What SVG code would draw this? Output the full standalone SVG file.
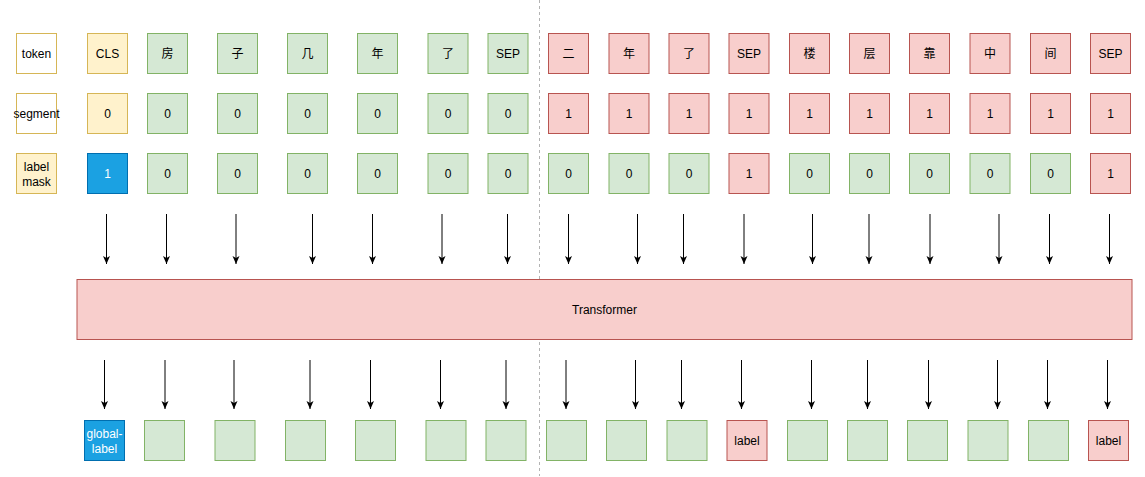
<svg xmlns="http://www.w3.org/2000/svg" width="1145" height="477" viewBox="0 0 1145 477">
<style>
.y{fill:#fff2cc;stroke:#d6b656;stroke-width:1}
.g{fill:#d5e8d4;stroke:#82b366;stroke-width:1}
.r{fill:#f8cecc;stroke:#b85450;stroke-width:1}
.b{fill:#1ba1e2;stroke:#006eaf;stroke-width:1}
.w{fill:#ffffff;stroke:#d6b656;stroke-width:1}
text{font-family:"Liberation Sans","Noto Sans CJK SC",sans-serif;font-size:12px;text-anchor:middle;fill:#000}
text.wt{fill:#ffffff}
.c line{stroke:#000;stroke-width:1;marker-end:url(#ah)}
</style>
<defs>
<marker id="ah" viewBox="0 0 8 8" refX="8" refY="4" markerWidth="8" markerHeight="8" markerUnits="userSpaceOnUse" orient="auto"><path d="M0,0.5 L8,4 L0,7.5 L2,4 Z" fill="#000"/></marker>
</defs>
<rect width="1145" height="477" fill="#ffffff"/>
<line id="divider" x1="539.5" y1="0" x2="539.5" y2="476" stroke="#b3b3b3" stroke-width="1" stroke-dasharray="3 3"/>

<g id="hdr-token"><rect class="w" x="16.5" y="33.5" width="40" height="40"/><text x="36.5" y="57.8">token</text></g>
<g id="hdr-segment"><rect class="w" x="16.5" y="93.5" width="40" height="40"/><text x="36.5" y="117.8">segment</text></g>
<g id="hdr-mask"><rect class="y" x="16.5" y="153.5" width="40" height="40"/><text x="36.5" y="171">label</text><text x="36.5" y="185.5">mask</text></g>

<g id="tok-1"><rect class="y" x="87.5" y="33.5" width="40" height="40"/><text x="107.5" y="57.8">CLS</text></g>
<g id="tok-2"><rect class="g" x="147.5" y="33.5" width="40" height="40"/><text x="167.5" y="57.8">房</text></g>
<g id="tok-3"><rect class="g" x="217.5" y="33.5" width="40" height="40"/><text x="237.5" y="57.8">子</text></g>
<g id="tok-4"><rect class="g" x="287.5" y="33.5" width="40" height="40"/><text x="307.5" y="57.8">几</text></g>
<g id="tok-5"><rect class="g" x="357.5" y="33.5" width="40" height="40"/><text x="377.5" y="57.8">年</text></g>
<g id="tok-6"><rect class="g" x="428" y="33.5" width="40" height="40"/><text x="448" y="57.8">了</text></g>
<g id="tok-7"><rect class="g" x="488" y="33.5" width="40" height="40"/><text x="508" y="57.8">SEP</text></g>
<g id="tok-8"><rect class="r" x="548.5" y="33.5" width="40" height="40"/><text x="568.5" y="57.8">二</text></g>
<g id="tok-9"><rect class="r" x="609" y="33.5" width="40" height="40"/><text x="629" y="57.8">年</text></g>
<g id="tok-10"><rect class="r" x="669" y="33.5" width="40" height="40"/><text x="689" y="57.8">了</text></g>
<g id="tok-11"><rect class="r" x="729" y="33.5" width="40" height="40"/><text x="749" y="57.8">SEP</text></g>
<g id="tok-12"><rect class="r" x="789.5" y="33.5" width="40" height="40"/><text x="809.5" y="57.8">楼</text></g>
<g id="tok-13"><rect class="r" x="849.5" y="33.5" width="40" height="40"/><text x="869.5" y="57.8">层</text></g>
<g id="tok-14"><rect class="r" x="909.5" y="33.5" width="40" height="40"/><text x="929.5" y="57.8">靠</text></g>
<g id="tok-15"><rect class="r" x="970" y="33.5" width="40" height="40"/><text x="990" y="57.8">中</text></g>
<g id="tok-16"><rect class="r" x="1030.5" y="33.5" width="40" height="40"/><text x="1050.5" y="57.8">间</text></g>
<g id="tok-17"><rect class="r" x="1090.5" y="33.5" width="40" height="40"/><text x="1110.5" y="57.8">SEP</text></g>

<g id="seg-1"><rect class="y" x="87.5" y="93.5" width="40" height="40"/><text x="107.5" y="117.8">0</text></g>
<g id="seg-2"><rect class="g" x="147.5" y="93.5" width="40" height="40"/><text x="167.5" y="117.8">0</text></g>
<g id="seg-3"><rect class="g" x="217.5" y="93.5" width="40" height="40"/><text x="237.5" y="117.8">0</text></g>
<g id="seg-4"><rect class="g" x="287.5" y="93.5" width="40" height="40"/><text x="307.5" y="117.8">0</text></g>
<g id="seg-5"><rect class="g" x="357.5" y="93.5" width="40" height="40"/><text x="377.5" y="117.8">0</text></g>
<g id="seg-6"><rect class="g" x="428" y="93.5" width="40" height="40"/><text x="448" y="117.8">0</text></g>
<g id="seg-7"><rect class="g" x="488" y="93.5" width="40" height="40"/><text x="508" y="117.8">0</text></g>
<g id="seg-8"><rect class="r" x="548.5" y="93.5" width="40" height="40"/><text x="568.5" y="117.8">1</text></g>
<g id="seg-9"><rect class="r" x="609" y="93.5" width="40" height="40"/><text x="629" y="117.8">1</text></g>
<g id="seg-10"><rect class="r" x="669" y="93.5" width="40" height="40"/><text x="689" y="117.8">1</text></g>
<g id="seg-11"><rect class="r" x="729" y="93.5" width="40" height="40"/><text x="749" y="117.8">1</text></g>
<g id="seg-12"><rect class="r" x="789.5" y="93.5" width="40" height="40"/><text x="809.5" y="117.8">1</text></g>
<g id="seg-13"><rect class="r" x="849.5" y="93.5" width="40" height="40"/><text x="869.5" y="117.8">1</text></g>
<g id="seg-14"><rect class="r" x="909.5" y="93.5" width="40" height="40"/><text x="929.5" y="117.8">1</text></g>
<g id="seg-15"><rect class="r" x="970" y="93.5" width="40" height="40"/><text x="990" y="117.8">1</text></g>
<g id="seg-16"><rect class="r" x="1030.5" y="93.5" width="40" height="40"/><text x="1050.5" y="117.8">1</text></g>
<g id="seg-17"><rect class="r" x="1090.5" y="93.5" width="40" height="40"/><text x="1110.5" y="117.8">1</text></g>

<g id="mask-1"><rect class="b" x="87.5" y="153.5" width="40" height="40"/><text class="wt" x="107.5" y="177.8">1</text></g>
<g id="mask-2"><rect class="g" x="147.5" y="153.5" width="40" height="40"/><text x="167.5" y="177.8">0</text></g>
<g id="mask-3"><rect class="g" x="217.5" y="153.5" width="40" height="40"/><text x="237.5" y="177.8">0</text></g>
<g id="mask-4"><rect class="g" x="287.5" y="153.5" width="40" height="40"/><text x="307.5" y="177.8">0</text></g>
<g id="mask-5"><rect class="g" x="357.5" y="153.5" width="40" height="40"/><text x="377.5" y="177.8">0</text></g>
<g id="mask-6"><rect class="g" x="428" y="153.5" width="40" height="40"/><text x="448" y="177.8">0</text></g>
<g id="mask-7"><rect class="g" x="488" y="153.5" width="40" height="40"/><text x="508" y="177.8">0</text></g>
<g id="mask-8"><rect class="g" x="548.5" y="153.5" width="40" height="40"/><text x="568.5" y="177.8">0</text></g>
<g id="mask-9"><rect class="g" x="609" y="153.5" width="40" height="40"/><text x="629" y="177.8">0</text></g>
<g id="mask-10"><rect class="g" x="669" y="153.5" width="40" height="40"/><text x="689" y="177.8">0</text></g>
<g id="mask-11"><rect class="r" x="729" y="153.5" width="40" height="40"/><text x="749" y="177.8">1</text></g>
<g id="mask-12"><rect class="g" x="789.5" y="153.5" width="40" height="40"/><text x="809.5" y="177.8">0</text></g>
<g id="mask-13"><rect class="g" x="849.5" y="153.5" width="40" height="40"/><text x="869.5" y="177.8">0</text></g>
<g id="mask-14"><rect class="g" x="909.5" y="153.5" width="40" height="40"/><text x="929.5" y="177.8">0</text></g>
<g id="mask-15"><rect class="g" x="970" y="153.5" width="40" height="40"/><text x="990" y="177.8">0</text></g>
<g id="mask-16"><rect class="g" x="1030.5" y="153.5" width="40" height="40"/><text x="1050.5" y="177.8">0</text></g>
<g id="mask-17"><rect class="r" x="1090.5" y="153.5" width="40" height="40"/><text x="1110.5" y="177.8">1</text></g>

<g id="transformer"><rect class="r" x="77" y="279.5" width="1055" height="60"/><text x="604.5" y="313.8">Transformer</text></g>

<g id="out-1"><rect class="b" x="84.5" y="420.5" width="40" height="40"/><text class="wt" x="104.5" y="438.3">global-</text><text class="wt" x="104.5" y="452.8">label</text></g>
<g id="out-2"><rect class="g" x="144.5" y="420.5" width="40" height="40"/></g>
<g id="out-3"><rect class="g" x="215" y="420.5" width="40" height="40"/></g>
<g id="out-4"><rect class="g" x="285.5" y="420.5" width="40" height="40"/></g>
<g id="out-5"><rect class="g" x="355.5" y="420.5" width="40" height="40"/></g>
<g id="out-6"><rect class="g" x="426" y="420.5" width="40" height="40"/></g>
<g id="out-7"><rect class="g" x="486" y="420.5" width="40" height="40"/></g>
<g id="out-8"><rect class="g" x="546.5" y="420.5" width="40" height="40"/></g>
<g id="out-9"><rect class="g" x="606.5" y="420.5" width="40" height="40"/></g>
<g id="out-10"><rect class="g" x="667" y="420.5" width="40" height="40"/></g>
<g id="out-11"><rect class="r" x="727" y="420.5" width="40" height="40"/><text x="747" y="444.8">label</text></g>
<g id="out-12"><rect class="g" x="787.5" y="420.5" width="40" height="40"/></g>
<g id="out-13"><rect class="g" x="847.5" y="420.5" width="40" height="40"/></g>
<g id="out-14"><rect class="g" x="907.5" y="420.5" width="40" height="40"/></g>
<g id="out-15"><rect class="g" x="968" y="420.5" width="40" height="40"/></g>
<g id="out-16"><rect class="g" x="1028.5" y="420.5" width="40" height="40"/></g>
<g id="out-17"><rect class="r" x="1088.5" y="420.5" width="40" height="40"/><text x="1108.5" y="444.8">label</text></g>

<g id="connectors" class="c">
<line x1="106.5" y1="214" x2="106.5" y2="264"/>
<line x1="166.5" y1="214" x2="166.5" y2="264"/>
<line x1="236" y1="214" x2="236" y2="264"/>
<line x1="312.5" y1="214" x2="312.5" y2="264"/>
<line x1="372.5" y1="214" x2="372.5" y2="264"/>
<line x1="442" y1="214" x2="442" y2="264"/>
<line x1="507.5" y1="214" x2="507.5" y2="264"/>
<line x1="568.5" y1="214" x2="568.5" y2="264"/>
<line x1="637.5" y1="214" x2="637.5" y2="264"/>
<line x1="683.5" y1="214" x2="683.5" y2="264"/>
<line x1="744" y1="214" x2="744" y2="264"/>
<line x1="812.5" y1="214" x2="812.5" y2="264"/>
<line x1="869" y1="214" x2="869" y2="264"/>
<line x1="930" y1="214" x2="930" y2="264"/>
<line x1="999" y1="214" x2="999" y2="264"/>
<line x1="1049.5" y1="214" x2="1049.5" y2="264"/>
<line x1="1109.5" y1="214" x2="1109.5" y2="264"/>
<line x1="104.5" y1="360" x2="104.5" y2="409"/>
<line x1="165" y1="360" x2="165" y2="409"/>
<line x1="234" y1="360" x2="234" y2="409"/>
<line x1="310" y1="360" x2="310" y2="409"/>
<line x1="370.5" y1="360" x2="370.5" y2="409"/>
<line x1="440.5" y1="360" x2="440.5" y2="409"/>
<line x1="506" y1="360" x2="506" y2="409"/>
<line x1="566" y1="360" x2="566" y2="409"/>
<line x1="635.5" y1="360" x2="635.5" y2="409"/>
<line x1="681.5" y1="360" x2="681.5" y2="409"/>
<line x1="741.5" y1="360" x2="741.5" y2="409"/>
<line x1="811.5" y1="360" x2="811.5" y2="409"/>
<line x1="867.5" y1="360" x2="867.5" y2="409"/>
<line x1="928.5" y1="360" x2="928.5" y2="409"/>
<line x1="997.5" y1="360" x2="997.5" y2="409"/>
<line x1="1047.5" y1="360" x2="1047.5" y2="409"/>
<line x1="1107.5" y1="360" x2="1107.5" y2="409"/>
</g>
</svg>
